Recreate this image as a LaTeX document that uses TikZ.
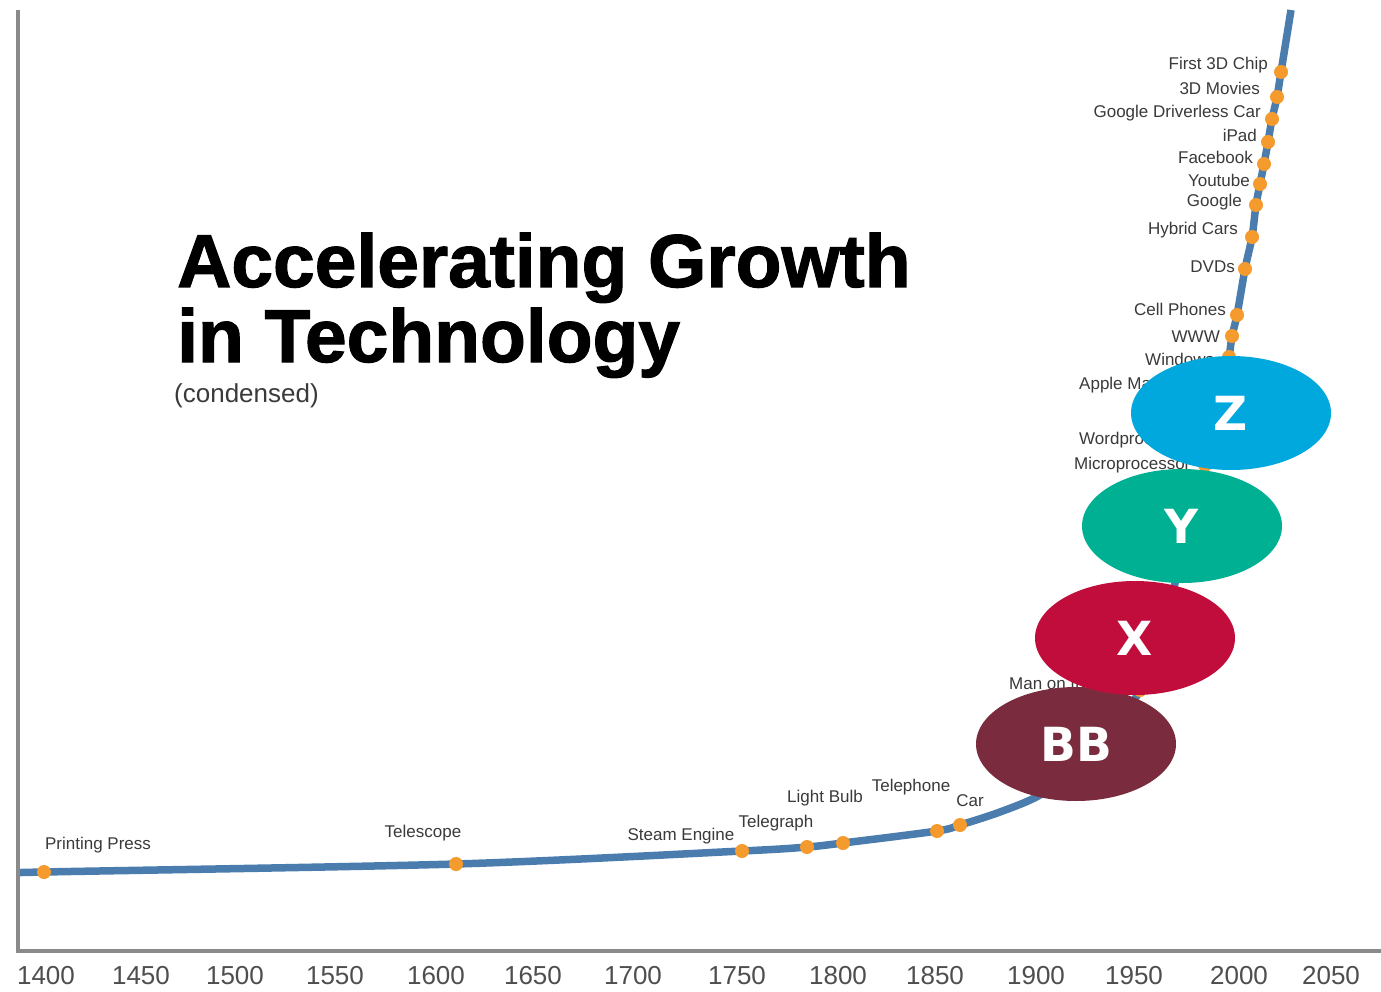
\documentclass[tikz,border=0pt]{standalone}
\usepackage{fontspec}
\setmainfont{Liberation Sans}
\newfontfamily\titlefont{Liberation Sans}[BoldFeatures={FakeBold=1.5}]
\newfontfamily\ellfont{DejaVu Sans}
\usetikzlibrary{shapes.geometric}
\definecolor{curveblue}{HTML}{4A7DAE}
\definecolor{dotorange}{HTML}{F59A2C}
\definecolor{axisgray}{HTML}{8A8A8A}
\definecolor{labgray}{HTML}{3A3A3A}
\definecolor{zblue}{HTML}{00A8DE}
\definecolor{yteal}{HTML}{00B092}
\definecolor{xred}{HTML}{C00D3B}
\definecolor{bbmaroon}{HTML}{7A2C3E}
\tikzset{
  evt/.style={font=\fontsize{17}{19}\selectfont, text=labgray, inner sep=0pt},
  yr/.style={font=\fontsize{26}{28}\selectfont, text=labgray!90, inner sep=0pt},
  dotmark/.style={circle, fill=dotorange, minimum size=14pt, inner sep=0pt},
  bubble/.style={ellipse, minimum width=200pt, minimum height=114pt, inner sep=0pt,
    text=white, font=\ellfont\bfseries\fontsize{47}{50}\selectfont},
}
\begin{document}
\begin{tikzpicture}[x=1pt,y=-1pt]
\useasboundingbox (0,0) rectangle (1381,992);
\fill[white] (0,0) rectangle (1381,992);
% curve
\begin{scope}
\clip (18,0) rectangle (1381,992);
\draw[curveblue, line width=7.5pt] plot[smooth, tension=0.5] coordinates {
 (19,873) (44,872) (456,864) (742,851) (807,847) (843,843) (937,831) (960,825)
 (1000,812) (1040,795) (1080,765) (1112,728) (1140,690) (1165,620) (1186,540)
 (1205,465) (1212,440) (1222,390) (1229,357) (1232,336) (1237,315) (1245,269)
 (1252,237) (1256,205) (1260,184) (1264,164) (1268,142) (1272,119) (1277,97)
 (1281,72) (1291,10)};
\end{scope}
% axes
\coordinate (top) at (18,10);
\coordinate (origin) at (18,951);
\coordinate (right) at (1381,951);
\draw[axisgray, line width=3.5pt] (top) -- (origin) -- (right);
% years
\foreach \yy/\xx in {1400/46,1450/141,1500/235,1550/335,1600/436,1650/533,1700/633,1750/737,1800/838,1850/935,1900/1036,1950/1134,2000/1239,2050/1331}
  \node[yr] (y\yy) at (\xx,976) {\yy};
% title
\node[anchor=base west, inner sep=0pt, font=\titlefont\bfseries\fontsize{75}{80}\selectfont] (t1) at (177,287) {Accelerating Growth};
\node[anchor=base west, inner sep=0pt, font=\titlefont\bfseries\fontsize{75}{80}\selectfont] (t2) at (177,362) {in Technology};
\node[anchor=west, inner sep=0pt, font=\fontsize{26}{28}\selectfont, text=labgray] (t3) at (174,396) {(condensed)};
% dots
\foreach \n/\p in {pp/{44,872},te/{456,864},se/{742,851},tg/{807,847},lb/{843,843},tp/{937,831},ca/{960,825},
  mm/{1140,690},mp/{1205,465},wp/{1212,440},am/{1222,390},wi/{1229,357},ww/{1232,336},cp/{1237,315},dv/{1245,269},
  hc/{1252,237},go/{1256,205},yt/{1260,184},fb/{1264,164},ip/{1268,142},gd/{1272,119},mv/{1277,97},fc/{1281,72}}
  \node[dotmark] (d\n) at (\p) {};
% bottom labels
\node[evt] (lpp) at (98,845) {Printing Press};
\node[evt] (lte) at (423,833) {Telescope};
\node[evt] (lse) at (681,836) {Steam Engine};
\node[evt] (ltg) at (776,823) {Telegraph};
\node[evt] (llb) at (825,798) {Light Bulb};
\node[evt] (ltp) at (911,787) {Telephone};
\node[evt] (lca) at (970,801) {Car};
\node[evt, anchor=west] (lmm) at (1009,683) {Man on the Moon};
% upper labels
\node[evt, anchor=east] (lfc) at (1268,65) {First 3D Chip};
\node[evt, anchor=east] (lmv) at (1260,88) {3D Movies};
\node[evt, anchor=east] (lgd) at (1261,113) {Google Driverless Car};
\node[evt, anchor=east] (lip) at (1257,135) {iPad};
\node[evt, anchor=east] (lfb) at (1253,157) {Facebook};
\node[evt, anchor=east] (lyt) at (1250,180) {Youtube};
\node[evt, anchor=east] (lgo) at (1242,202) {Google};
\node[evt, anchor=east] (lhc) at (1238,230) {Hybrid Cars};
\node[evt, anchor=east] (ldv) at (1235,267) {DVDs};
\node[evt, anchor=east] (lcp) at (1226,309) {Cell Phones};
\node[evt, anchor=east] (lww) at (1220,337) {WWW};
\node[evt, anchor=west] (lwi) at (1145,359) {Windows};
\node[evt, anchor=west] (lam) at (1079,385) {Apple Macintosh};
\node[evt, anchor=west] (lwp) at (1079,440) {Wordprocessor};
\node[evt, anchor=west] (lmp) at (1074,465) {Microprocessor};
% bubbles
\node[bubble, fill=bbmaroon] (bb) at (1076,744) {BB};
\node[bubble, fill=xred] (bx) at (1135,638) {X};
\node[bubble, fill=yteal] (by) at (1182,526) {Y};
\node[bubble, fill=zblue] (bz) at (1231,413) {Z};
\end{tikzpicture}
\end{document}
